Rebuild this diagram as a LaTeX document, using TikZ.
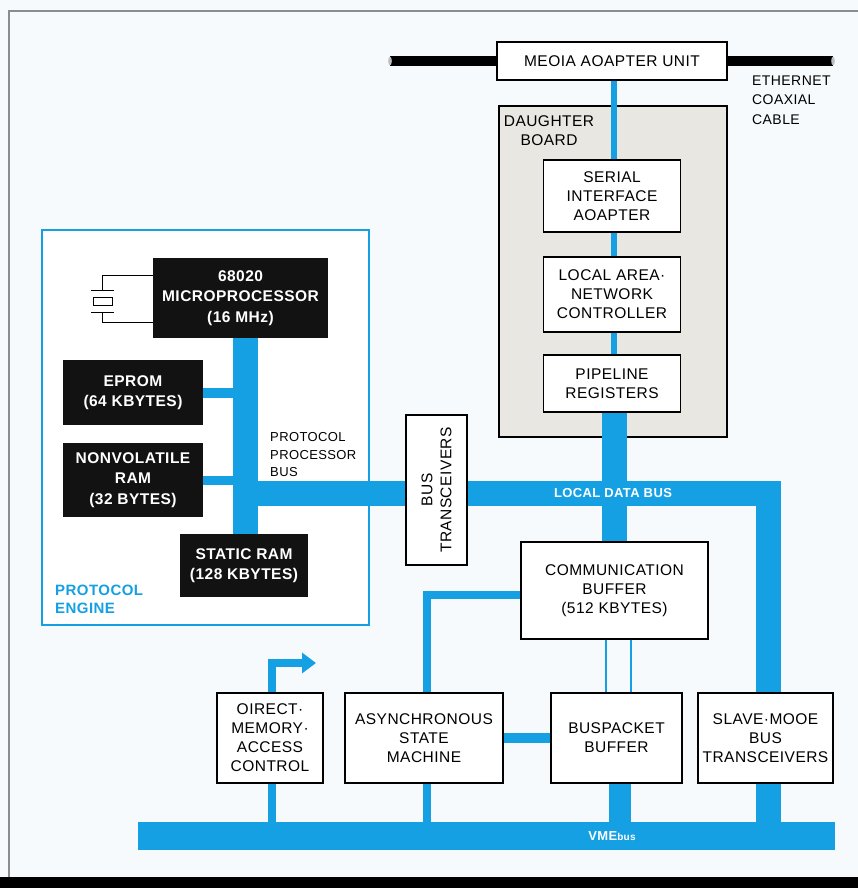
\documentclass[tikz,border=0pt]{standalone}
\usepackage{fontspec}
\setmainfont{Liberation Sans}[LetterSpace=3]
\usetikzlibrary{calc,positioning,arrows.meta,fit}
\definecolor{busblue}{RGB}{22,160,228}
\definecolor{boardgray}{RGB}{232,231,226}
\definecolor{paper}{RGB}{247,250,252}
\newcommand{\boxfont}{\fontsize{15.5}{19}\selectfont}
\newcommand{\chipfont}{\fontsize{15.5}{20.5}\selectfont\bfseries}
\newcommand{\labfont}{\fontsize{13}{17.5}\selectfont}
\pgfdeclarelayer{back}
\pgfdeclarelayer{mid}
\pgfsetlayers{back,mid,main}
\begin{document}
\begin{tikzpicture}[x=1pt,y=-1pt,
  wbox/.style={draw,fill=white,line width=1.3pt,inner sep=0pt,align=center,font=\boxfont},
  bbox/.style={fill=black!93,text=white,inner sep=0pt,align=center,font=\chipfont},
  bus/.style={busblue,line width=25pt,line join=miter},
  link/.style={busblue,line width=8pt,line join=miter},
  wire/.style={busblue,line width=1.2pt}]
  \useasboundingbox (0,0) rectangle (858,888);
  \begin{pgfonlayer}{back}
    \fill[paper] (0,0) rectangle (858,888);
    \draw[black!45,line width=1.5pt] (858,11) -- (9,11) -- (9,877);
    \fill[black] (0,877) rectangle (858,888);
    % protocol engine
    \draw[busblue,line width=1.2pt,fill=white] (42,230) rectangle (369,625);
    % daughter board
    \node[draw,fill=boardgray,line width=1.3pt,minimum width=228,minimum height=331,inner sep=0pt] (board) at (613,271.5) {};
  \end{pgfonlayer}

  % ethernet cable
  \coordinate (cabL) at (390,61);
  \coordinate (cabR) at (833,61);
  \draw[line width=10pt] (cabL) -- (cabR);
  \fill[black!25] (cabL) ellipse (1.8 and 4.5);
  \fill[black!25] (cabR) ellipse (1.8 and 4.5);
  \node[wbox,minimum width=230,minimum height=38] (media) at (612,61) {MEOIA AOAPTER UNIT};
  \node[anchor=west,align=left,inner sep=0pt,font=\fontsize{14}{19.5}\selectfont] (ether) at (752,100) {ETHERNET\\COAXIAL\\CABLE};

  % daughter board
  \node[align=center,inner sep=0pt,font=\boxfont] (boardlbl) at (549,131) {DAUGHTER\\BOARD};
  \node[wbox,minimum width=137,minimum height=72] (sia) at (612,196) {SERIAL\\INTERFACE\\AOAPTER};
  \node[wbox,minimum width=137,minimum height=75] (lan) at (612,294.5) {LOCAL AREA·\\NETWORK\\CONTROLLER};
  \node[wbox,minimum width=137,minimum height=57] (pipe) at (612,383.5) {PIPELINE\\REGISTERS};

  % protocol engine
  \node[bbox,minimum width=175,minimum height=80] (micro) at (240.5,298) {68020\\MICROPROCESSOR\\(16 MHz)};
  \node[bbox,minimum width=140,minimum height=65] (eprom) at (133,392.5) {EPROM\\(64 KBYTES)};
  \node[bbox,minimum width=140,minimum height=74] (nvram) at (133,480) {NONVOLATILE\\RAM\\(32 BYTES)};
  \node[bbox,minimum width=128,minimum height=63] (sram) at (244,565.5) {STATIC RAM\\(128 KBYTES)};
  \node[anchor=west,align=left,inner sep=0pt,font=\labfont] (pplbl) at (270,455) {PROTOCOL\\PROCESSOR\\BUS};
  \node[anchor=west,align=left,inner sep=0pt,text=busblue,font=\fontsize{15}{18}\selectfont\bfseries] (englbl) at (55,599) {PROTOCOL\\ENGINE};

  % crystal
  \draw[line width=0.8pt] ($(micro.north west)+(0,18)$) -| (102,290);
  \draw[line width=0.8pt] ($(micro.south west)+(0,-16)$) -| (102,312);
  \draw[line width=0.8pt] (91,290) -- (114,290) (91,312) -- (114,312);
  \draw[line width=0.8pt] (93,297) rectangle (112,305);

  \node[wbox,minimum width=61,minimum height=150] (bustr) at (436.5,490) {};
  \node[rotate=90,align=center,font=\boxfont] at (bustr.center) {BUS\\TRANSCEIVERS};
  \node[wbox,minimum width=187,minimum height=97] (comm) at (614.5,590.5) {COMMUNICATION\\BUFFER\\(512 KBYTES)};

  % bottom row
  \node[wbox,minimum width=106,minimum height=90] (dma) at (270,738) {OIRECT·\\MEMORY·\\ACCESS\\CONTROL};
  \node[wbox,minimum width=158,minimum height=90] (asm) at (424,738) {ASYNCHRONOUS\\STATE\\MACHINE};
  \node[wbox,minimum width=131,minimum height=90] (bpb) at (616.5,738) {BUSPACKET\\BUFFER};
  \node[wbox,minimum width=135,minimum height=90] (slave) at (765.5,738) {SLAVE·MOOE\\BUS\\TRANSCEIVERS};
  \node[fill=busblue,minimum width=697,minimum height=28,inner sep=0pt] (vme) at (486.5,836) {};
  \node[text=white,inner sep=0pt,font=\fontsize{13}{13}\selectfont\bfseries] (vmelbl) at (612,836) {VME{\fontsize{10}{10}\selectfont bus}};

  \coordinate (pbx) at (245,493);
  \coordinate (ldc) at (768,493);
  \coordinate (spx) at (614,0);
  \coordinate (ca) at (427,595);
  \coordinate (dmx) at (272,0);
  \coordinate (dmarr) at (316,663);
  \coordinate (bpx) at (620,0);
  \coordinate (wa) at (606,0);
  \coordinate (wb) at (631,0);

  \begin{pgfonlayer}{mid}
    % protocol processor bus
    \draw[bus] (pbx |- micro.south) -- (pbx |- sram.north);
    \draw[link,line width=10pt] (eprom.east) -- (eprom.east -| pbx);
    \draw[link,line width=9pt] (nvram.east) -- (nvram.east -| pbx);
    \draw[bus] (pbx) -- (bustr.west |- pbx);
    % local data bus
    \draw[bus] (bustr.east |- pbx) -- (ldc) -- (slave.north -| ldc);
    \draw[link,line width=6pt] (media.south -| spx) -- (sia.north -| spx);
    \draw[link,line width=6pt] (sia.south -| spx) -- (lan.north -| spx);
    \draw[link,line width=6pt] (lan.south -| spx) -- (pipe.north -| spx);
    \draw[bus] (pipe.south -| spx) -- (comm.north -| spx);
    % buffer connections
    \draw[link] (comm.west |- ca) -- (ca) -- (asm.north -| ca);
    \draw[wire] (comm.south -| wa) -- (bpb.north -| wa);
    \draw[wire] (comm.south -| wb) -- (bpb.north -| wb);
    \draw[link,line width=10pt] (asm.east) -- (bpb.west);
    \draw[link,-{Triangle[length=14pt,width=20pt]}] (dma.north -| dmx) |- (dmarr);
    % VMEbus drops
    \draw[link] (dma.south -| dmx) -- (vme.north -| dmx);
    \draw[link] (asm.south -| ca) -- (vme.north -| ca);
    \draw[bus,line width=22pt] (bpb.south -| bpx) -- (vme.north -| bpx);
    \draw[bus] (slave.south -| ldc) -- (vme.north -| ldc);
  \end{pgfonlayer}
  \node[text=white,inner sep=0pt,font=\fontsize{13}{13}\selectfont\bfseries] (ldblbl) at (613,493) {LOCAL DATA BUS};
\end{tikzpicture}
\end{document}
